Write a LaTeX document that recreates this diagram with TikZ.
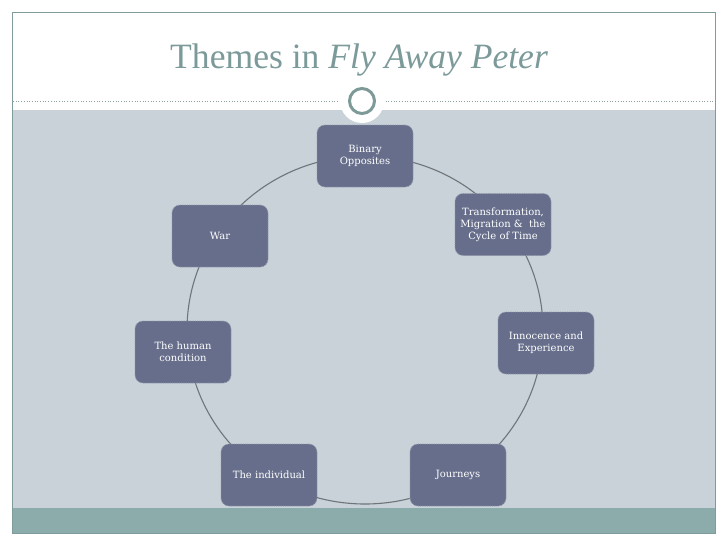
\documentclass[tikz,border=0pt]{standalone}
\usepackage{fontspec}
\newfontfamily\titlefont{Liberation Serif}
\newfontfamily\boxfont{DejaVu Serif}
\definecolor{framec}{HTML}{7F9C9C}
\definecolor{bandc}{HTML}{C8D2D8}
\definecolor{tealc}{HTML}{8BACAB}
\definecolor{boxc}{HTML}{666E8B}
\definecolor{boxedge}{HTML}{9397AC}
\definecolor{ringc}{HTML}{707579}
\definecolor{titlec}{HTML}{7B9A99}
\definecolor{ornc}{HTML}{7D9A98}
\definecolor{dotc}{HTML}{8CA0A0}
\tikzset{
  themebox/.style={rectangle, rounded corners=8pt, minimum width=96pt, minimum height=62pt,
    fill=boxc, draw=boxedge, densely dotted, line width=0.8pt, text=white,
    font=\boxfont\fontsize{10}{12}\selectfont, align=center, inner sep=2pt},
  cyclering/.style={draw=ringc, line width=1.1pt}
}
\begin{document}
\begin{tikzpicture}[x=1pt,y=-1pt]
\useasboundingbox (0,0) rectangle (728,546);
\fill[white] (0,0) rectangle (728,546);
% bands
\fill[bandc] (12,110) rectangle (715,508);
\fill[tealc] (12,508) rectangle (715,533);
\draw[framec, line width=1pt] (12,12) rectangle (715,533);
% title
\node[anchor=base west, inner sep=0pt, text=titlec, font=\titlefont\fontsize{35.6}{40}\selectfont] (title) at (170,68.3) {Themes in \textit{Fly Away Peter}};
% dotted rule and ornament
\draw[dotc, dotted, line width=0.7pt] (13,101) -- (714,101);
\fill[white] (362,101) circle (22);
\node[circle, draw=ornc, fill=white, line width=3pt, minimum size=25pt, inner sep=0pt] (orn) at (362,101) {};
% cycle
\draw[cyclering] (365,330) ellipse (178 and 174);
% nodes
\node[themebox] (bin) at (365,156) {Binary\\Opposites};
\node[themebox] (trans) at (503,224.5) {Transformation,\\Migration \&\ \ the\\Cycle of Time};
\node[themebox] (inno) at (546,343) {Innocence and\\Experience};
\node[themebox] (jour) at (458,475) {Journeys};
\node[themebox] (indiv) at (269,475) {The individual};
\node[themebox] (human) at (183,352) {The human\\condition};
\node[themebox] (war) at (220,236) {War};
\end{tikzpicture}
\end{document}
